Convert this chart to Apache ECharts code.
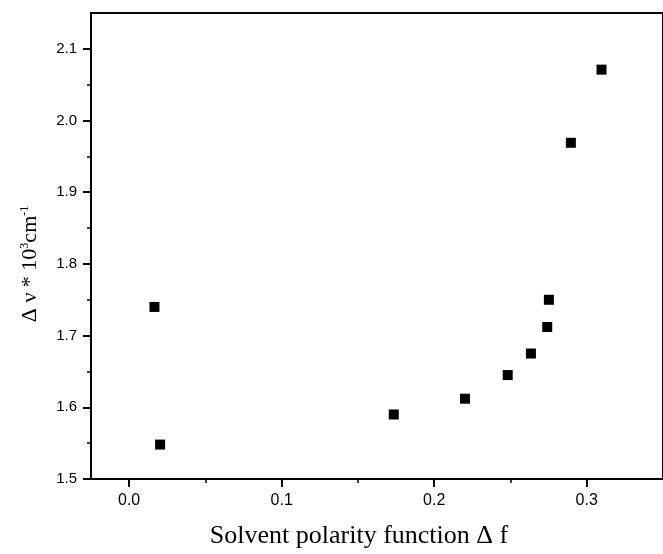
<!DOCTYPE html>
<html>
<head>
<meta charset="utf-8">
<script src="https://cdn.jsdelivr.net/npm/echarts@6/dist/echarts.min.js"></script>
<style>html,body{margin:0;padding:0;background:#fff}#c{width:663px;height:554px}</style>
</head>
<body>
<div id="c"></div>
<script>
// Data
var deltaF = [0.0166, 0.0203, 0.1735, 0.2202, 0.2482, 0.2634, 0.2741, 0.2752, 0.2896, 0.3097];
var deltaNu = [1.740, 1.548, 1.590, 1.612, 1.645, 1.675, 1.712, 1.750, 1.969, 2.071];
var xTicks = [0.0, 0.1, 0.2, 0.3];
var yTicks = [1.5, 1.6, 1.7, 1.8, 1.9, 2.0, 2.1];

var points = deltaF.map(function (x, i) { return [x, deltaNu[i]]; });

var chart = echarts.init(document.getElementById('c'), null, {renderer: 'canvas'});
chart.setOption({
  backgroundColor: '#fff',
  animation: false,
  grid: {
    left: 91, top: 13, right: -8, bottom: 72,
    show: true, borderColor: '#000', borderWidth: 2, backgroundColor: 'transparent'
  },
  xAxis: {
    type: 'value',
    min: -0.025, max: 0.35,
    splitLine: {show: false},
    axisLine: {show: true, onZero: false, lineStyle: {color: '#000', width: 2}},
    axisTick: {show: true, inside: false, length: 8, lineStyle: {color: '#000', width: 2}, customValues: xTicks},
    minorTick: {show: true, splitNumber: 2, length: 4, lineStyle: {color: '#000', width: 1.5}},
    axisLabel: {
      color: '#000', fontSize: 16, fontFamily: 'Liberation Sans', margin: 14,
      customValues: xTicks,
      formatter: function (v) { return v.toFixed(1); }
    },
    name: 'Solvent polarity function Δ f',
    nameLocation: 'middle',
    nameGap: 44,
    nameTextStyle: {color: '#000', fontSize: 26, fontFamily: 'Liberation Serif', padding: [0, 36, 0, 0]}
  },
  yAxis: {
    type: 'value',
    min: 1.5, max: 2.15, interval: 0.1,
    splitLine: {show: false},
    axisLine: {show: true, onZero: false, lineStyle: {color: '#000', width: 2}},
    axisTick: {show: true, inside: false, length: 8, lineStyle: {color: '#000', width: 2}, customValues: yTicks},
    minorTick: {show: true, splitNumber: 2, length: 4, lineStyle: {color: '#000', width: 1.5}},
    axisLabel: {
      color: '#000', fontSize: 15, fontFamily: 'Liberation Sans', margin: 14,
      customValues: yTicks,
      formatter: function (v) { return v.toFixed(1); }
    },
    name: '{a|Δ ν * 10}{s|3}{a|cm}{s|-1}',
    nameLocation: 'middle',
    nameGap: 50,
    nameRotate: 90,
    nameTextStyle: {
      color: '#000', padding: [0, 36, 0, 0],
      rich: {
        a: {fontSize: 22, fontFamily: 'Liberation Serif', color: '#000'},
        s: {fontSize: 12, fontFamily: 'Liberation Serif', color: '#000', verticalAlign: 'top'}
      }
    }
  },
  series: [{
    type: 'scatter',
    data: points,
    symbol: 'rect',
    symbolSize: 10,
    itemStyle: {color: '#000', opacity: 1}
  }]
});
</script>
</body>
</html>
